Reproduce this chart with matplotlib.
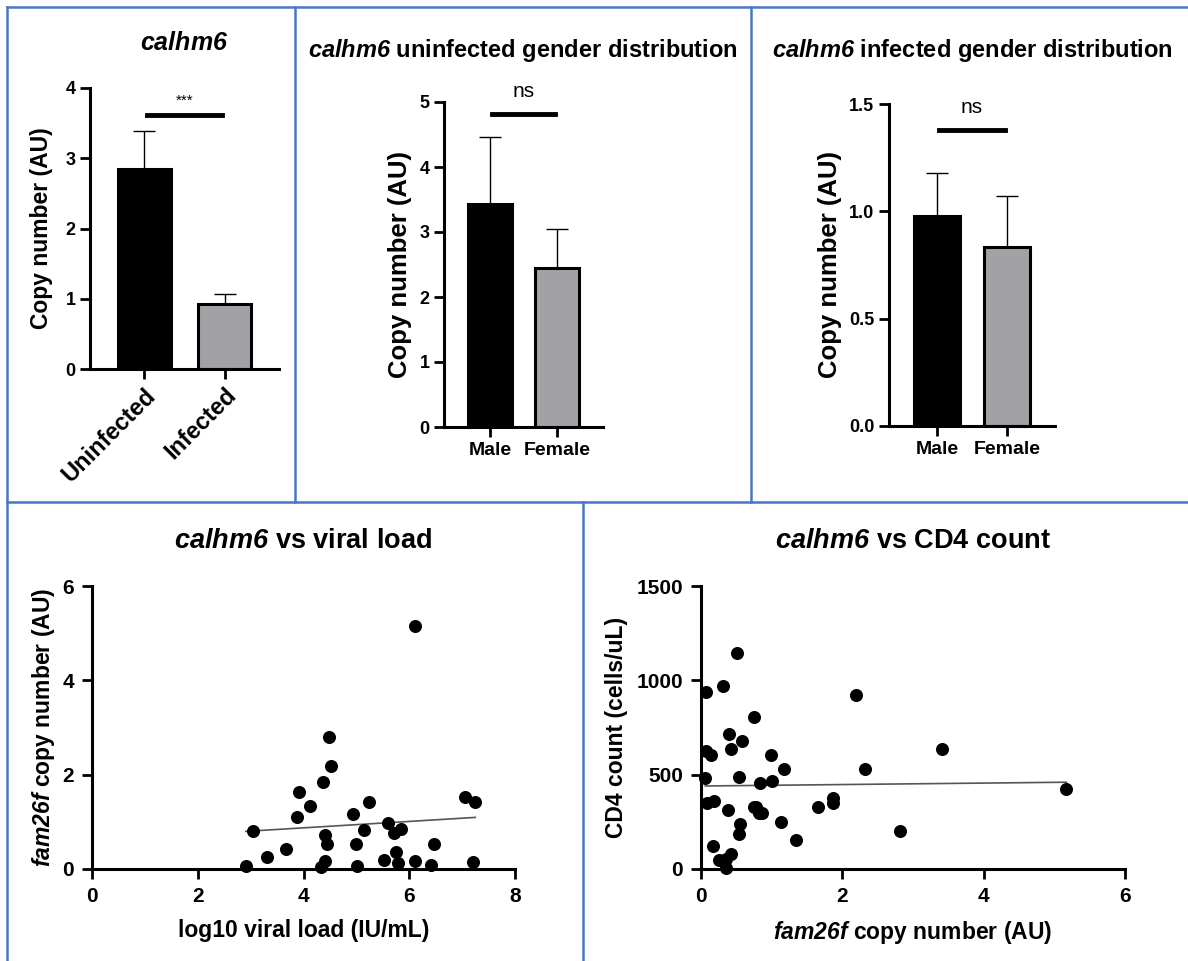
import numpy as np
import matplotlib
matplotlib.use('Agg')
import matplotlib.pyplot as plt
from matplotlib.lines import Line2D

plt.rcParams['font.family'] = ['Liberation Sans', 'DejaVu Sans']
# 数学文本只用于斜体基因名
plt.rcParams['mathtext.fontset'] = 'custom'
plt.rcParams['mathtext.it'] = 'Liberation Sans:bold:italic'
plt.rcParams['mathtext.rm'] = 'Liberation Sans:bold:italic'
plt.rcParams['mathtext.bf'] = 'Liberation Sans:bold:italic'
NARROW = ['Liberation Sans Narrow', 'Liberation Sans']

# 柱状图数据
status_names = ['Uninfected', 'Infected']
status_means = [2.85, 0.92]
status_sem = [0.54, 0.15]

sex_names = ['Male', 'Female']
uninf_means = [3.43, 2.44]
uninf_sem = [1.03, 0.61]
inf_means = [0.98, 0.836]
inf_sem = [0.197, 0.237]

# 显著性标注
sig_labels = ['***', 'ns', 'ns']
sig_heights = [3.61, 4.82, 1.379]
sig_text_heights = [3.72, 5.02, 1.44]

# 散点图：病毒载量
vl_x = [2.91, 3.04, 3.31, 3.67, 3.87, 3.92, 4.13, 4.37, 4.48, 4.52, 4.40, 4.44,
        4.40, 4.33, 4.94, 5.00, 5.02, 5.15, 5.24, 5.52, 5.59, 5.72, 5.85, 5.74,
        5.78, 6.10, 6.10, 6.42, 6.46, 7.05, 7.25, 7.20]
vl_y = [0.06, 0.80, 0.25, 0.43, 1.11, 1.64, 1.34, 1.85, 2.80, 2.18, 0.72, 0.54,
        0.17, 0.05, 1.17, 0.53, 0.06, 0.83, 1.41, 0.20, 0.98, 0.76, 0.85, 0.35,
        0.13, 5.15, 0.16, 0.08, 0.53, 1.53, 1.43, 0.14]

# 散点图：CD4计数
cd4_x = [0.505, 0.316, 0.071, 2.19, 0.755, 0.40, 0.585, 0.43, 0.071, 0.14,
         0.995, 3.415, 1.18, 2.32, 0.54, 0.061, 0.83, 1.005, 5.17, 0.085,
         0.19, 0.38, 0.755, 0.78, 0.816, 0.87, 1.66, 1.87, 1.87, 1.13,
         0.557, 0.54, 1.35, 2.81, 0.165, 0.255, 0.36, 0.43, 0.354]
cd4_y = [1145, 972, 937, 923, 806, 715, 679, 635, 625, 603,
         603, 634, 528, 531, 489, 480, 457, 468, 424, 348,
         358, 314, 330, 326, 295, 296, 330, 378, 348, 249,
         236, 185, 155, 199, 120, 46, 51, 78, 7]

W, H = 1188, 961
fig = plt.figure(figsize=(W / 100, H / 100), dpi=100)


def px_axes(x0, x1, ytop, ybot):
    return fig.add_axes([x0 / W, 1 - ybot / H, (x1 - x0) / W, (ybot - ytop) / H])


def style_axes(ax, size=13, pad=3.5):
    for s in ['top', 'right']:
        ax.spines[s].set_visible(False)
    for s in ['left', 'bottom']:
        ax.spines[s].set_linewidth(2.2)
    ax.tick_params(direction='out', length=7, width=2, labelsize=size, pad=pad)
    for lab in ax.get_xticklabels() + ax.get_yticklabels():
        lab.set_fontweight('bold')
        lab.set_family(NARROW)


def bar_panel(ax, names, means, sem, ylim, yticks, sig, sig_y, sig_ty, ylabel_size,
              ylabel_pad, rot=False):
    pos = np.arange(len(names))
    ax.bar(pos, means, width=0.66, color=['black', '#a2a2a6'], edgecolor='black',
           linewidth=2.2, zorder=2)
    ax.errorbar(pos, means, yerr=[np.zeros(len(sem)), sem], fmt='none', ecolor='black',
                elinewidth=1, capsize=8, capthick=1, zorder=1)
    ax.set_xlim(-0.68, 1.68)
    ax.set_ylim(*ylim)
    ax.set_yticks(yticks)
    ax.set_xticks(pos)
    ax.set_xticklabels(names)
    ax.set_ylabel('Copy number (AU)', fontsize=ylabel_size, fontweight='bold',
                  labelpad=ylabel_pad)
    style_axes(ax)
    for lab in ax.get_xticklabels():
        if rot:
            lab.set_rotation(45)
            lab.set_ha('right')
            lab.set_rotation_mode('anchor')
            lab.set_fontsize(17)
        else:
            lab.set_fontsize(14)
    ax.plot([0.03, 0.97], [sig_y, sig_y], color='black', lw=3.5, clip_on=False)
    if sig == '***':
        ax.text(0.5, sig_ty, sig, ha='center', va='bottom', fontsize=11)
    else:
        ax.text(0.5, sig_ty, sig, ha='center', va='bottom', fontsize=15, family=NARROW)


ax1 = px_axes(90, 279, 88, 369)
bar_panel(ax1, status_names, status_means, status_sem, (0, 4), [0, 1, 2, 3, 4],
          sig_labels[0], sig_heights[0], sig_text_heights[0], 16.5, 9, rot=True)

ax2 = px_axes(444, 603, 102, 427)
bar_panel(ax2, sex_names, uninf_means, uninf_sem, (0, 5), [0, 1, 2, 3, 4, 5],
          sig_labels[1], sig_heights[1], sig_text_heights[1], 18.5, 5)

ax3 = px_axes(889, 1055, 104, 426)
bar_panel(ax3, sex_names, inf_means, inf_sem, (0, 1.5), [0, 0.5, 1.0, 1.5],
          sig_labels[2], sig_heights[2], sig_text_heights[2], 18.5, 5)
ax3.set_yticklabels(['0.0', '0.5', '1.0', '1.5'])
for lab in ax3.get_yticklabels():
    lab.set_fontweight('bold')
    lab.set_family(NARROW)


def scatter_panel(ax, x, y, xlim, ylim, xticks, yticks):
    ax.scatter(x, y, s=70, color='black', zorder=3, clip_on=False)
    k, b = np.polyfit(x, y, 1)
    xs = np.array([min(x), max(x)])
    ax.plot(xs, k * xs + b, color='#555555', lw=1.2, zorder=2)
    ax.set_xlim(*xlim)
    ax.set_ylim(*ylim)
    ax.set_xticks(xticks)
    ax.set_yticks(yticks)
    style_axes(ax, size=15, pad=6)


ax4 = px_axes(92, 515, 586, 869)
scatter_panel(ax4, vl_x, vl_y, (0, 8), (0, 6), [0, 2, 4, 6, 8], [0, 2, 4, 6])
ax4.set_xlabel('log10 viral load (IU/mL)', fontsize=16.5, fontweight='bold', labelpad=9)
ax4.set_ylabel(r'$\mathrm{fam26f}$ copy number (AU)', fontsize=16.5, fontweight='bold',
               labelpad=4)

ax5 = px_axes(701, 1125, 586, 869)
scatter_panel(ax5, cd4_x, cd4_y, (0, 6), (0, 1500), [0, 2, 4, 6], [0, 500, 1000, 1500])
ax5.set_xlabel(r'$\mathrm{fam26f}$ copy number (AU)', fontsize=16.5, fontweight='bold',
               labelpad=9)
ax5.set_ylabel('CD4 count (cells/uL)', fontsize=16.5, fontweight='bold', labelpad=6)

# 标题
titles = [(184, 43, 18, r'$\mathrm{calhm6}$'),
          (523, 50, 17, r'$\mathrm{calhm6}$ uninfected gender distribution'),
          (972, 50, 17, r'$\mathrm{calhm6}$ infected gender distribution'),
          (303, 541, 19.5, r'$\mathrm{calhm6}$ vs viral load'),
          (913, 541, 19.5, r'$\mathrm{calhm6}$ vs CD4 count')]
for tx, ty, fs, t in titles:
    fig.text(tx / W, 1 - ty / H, t, ha='center', va='center', fontsize=fs, fontweight='bold')

# 蓝色分隔框
blue = '#4a76c8'
segs = [((7, 7), (W, 7)), ((7, 7), (7, H)), ((295, 7), (295, 502)),
        ((751, 7), (751, 502)), ((7, 502), (W, 502)), ((583, 502), (583, H))]
for (xa, ya), (xb, yb) in segs:
    fig.add_artist(Line2D([xa / W, xb / W], [1 - ya / H, 1 - yb / H], color=blue, lw=1.8))

fig.savefig('out.png', dpi=100)
